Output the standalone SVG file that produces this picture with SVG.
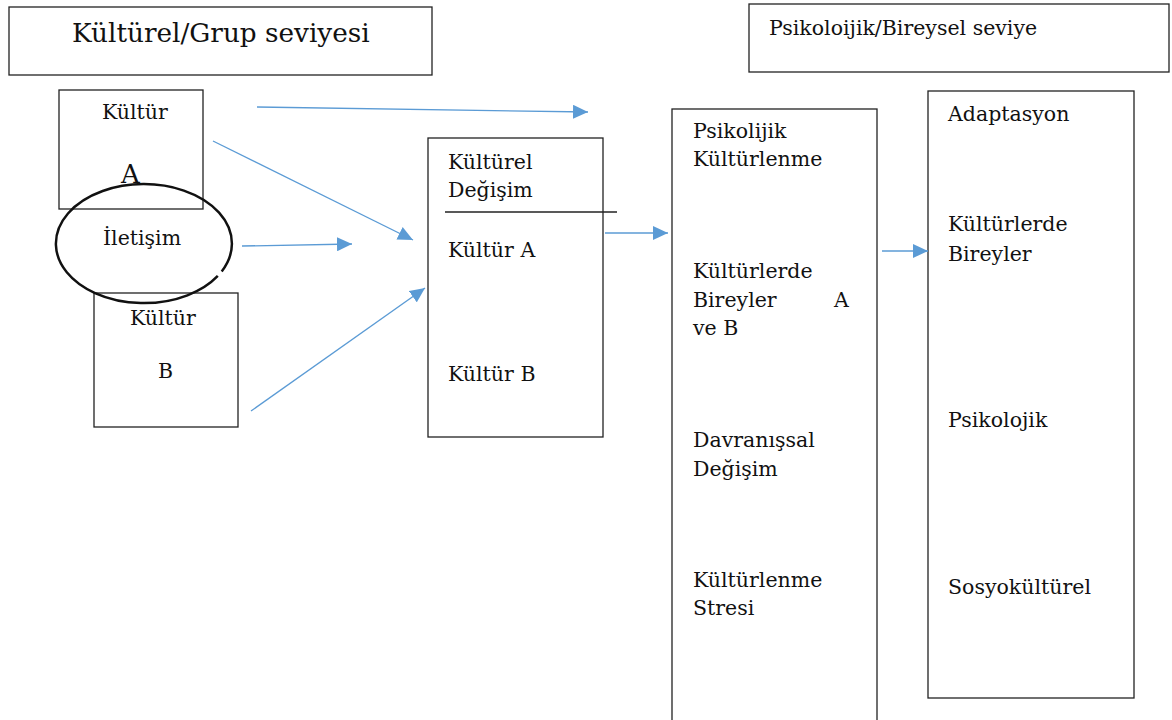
<svg xmlns="http://www.w3.org/2000/svg" width="1172" height="720" viewBox="0 0 1172 720">
<style>
.box{fill:#fff;stroke:#222;stroke-width:1.3}
.t{font-family:"DejaVu Serif","Liberation Serif",serif;font-size:20.5px;fill:#111}
.conn line{stroke:#5B9BD5;stroke-width:1.3;marker-end:url(#ah)}
</style>
<defs>
<marker id="ah" viewBox="0 0 10 10" refX="10" refY="5" markerWidth="15" markerHeight="14" markerUnits="userSpaceOnUse" orient="auto" preserveAspectRatio="none">
<path d="M0,0 L10,5 L0,10 Z" fill="#5B9BD5"/>
</marker>
</defs>
<rect width="1172" height="720" fill="#fff"/>
<g id="title-left">
<rect class="box" x="9" y="7" width="423" height="68"/>
<text class="t" x="72" y="42" style="font-size:26.3px">Kültürel/Grup seviyesi</text>
</g>
<g id="title-right">
<rect class="box" x="749" y="4" width="420" height="68"/>
<text class="t" x="769" y="35">Psikoloijik/Bireysel seviye</text>
</g>
<g id="kultur-a">
<rect class="box" x="59" y="90" width="144" height="119"/>
<text class="t" x="102" y="119">Kültür</text>
<text class="t" x="121" y="183" style="font-size:26px">A</text>
</g>
<g id="kultur-b">
<rect class="box" x="94" y="293" width="144" height="134"/>
<text class="t" x="130" y="325">Kültür</text>
<text class="t" x="158" y="378">B</text>
</g>
<g id="iletisim">
<path d="M217.8,275.9 A88,59.5 0 1 1 221.7,271.4" fill="none" stroke="#111" stroke-width="2.5"/>
<text class="t" x="103" y="245">İletişim</text>
</g>
<g id="kulturel-degisim">
<rect class="box" x="428" y="138" width="175" height="299"/>
<text class="t" x="448" y="169">Kültürel</text>
<text class="t" x="448" y="197">Değişim</text>
<line x1="445" y1="212" x2="617" y2="212" stroke="#222" stroke-width="1.3"/>
<text class="t" x="448" y="257">Kültür A</text>
<text class="t" x="448" y="381">Kültür B</text>
</g>
<g id="psikolojik-kulturlenme">
<rect class="box" x="672" y="109" width="205" height="620"/>
<text class="t" x="693" y="138">Psikolijik</text>
<text class="t" x="693" y="166">Kültürlenme</text>
<text class="t" x="693" y="278">Kültürlerde</text>
<text class="t" x="693" y="307">Bireyler</text>
<text class="t" x="834" y="307">A</text>
<text class="t" x="693" y="335">ve B</text>
<text class="t" x="693" y="447">Davranışsal</text>
<text class="t" x="693" y="476">Değişim</text>
<text class="t" x="693" y="587">Kültürlenme</text>
<text class="t" x="693" y="615">Stresi</text>
</g>
<g id="adaptasyon">
<rect class="box" x="928" y="91" width="206" height="607"/>
<text class="t" x="948" y="121">Adaptasyon</text>
<text class="t" x="948" y="231">Kültürlerde</text>
<text class="t" x="948" y="261">Bireyler</text>
<text class="t" x="948" y="427">Psikolojik</text>
<text class="t" x="948" y="594">Sosyokültürel</text>
</g>
<g id="connectors" class="conn">
<line x1="257" y1="107" x2="588" y2="112"/>
<line x1="213" y1="141" x2="413" y2="240"/>
<line x1="242" y1="246" x2="352" y2="244"/>
<line x1="251" y1="411" x2="425" y2="288"/>
<line x1="605" y1="233" x2="668" y2="233"/>
<line x1="882" y1="251" x2="928" y2="251"/>
</g>
</svg>
